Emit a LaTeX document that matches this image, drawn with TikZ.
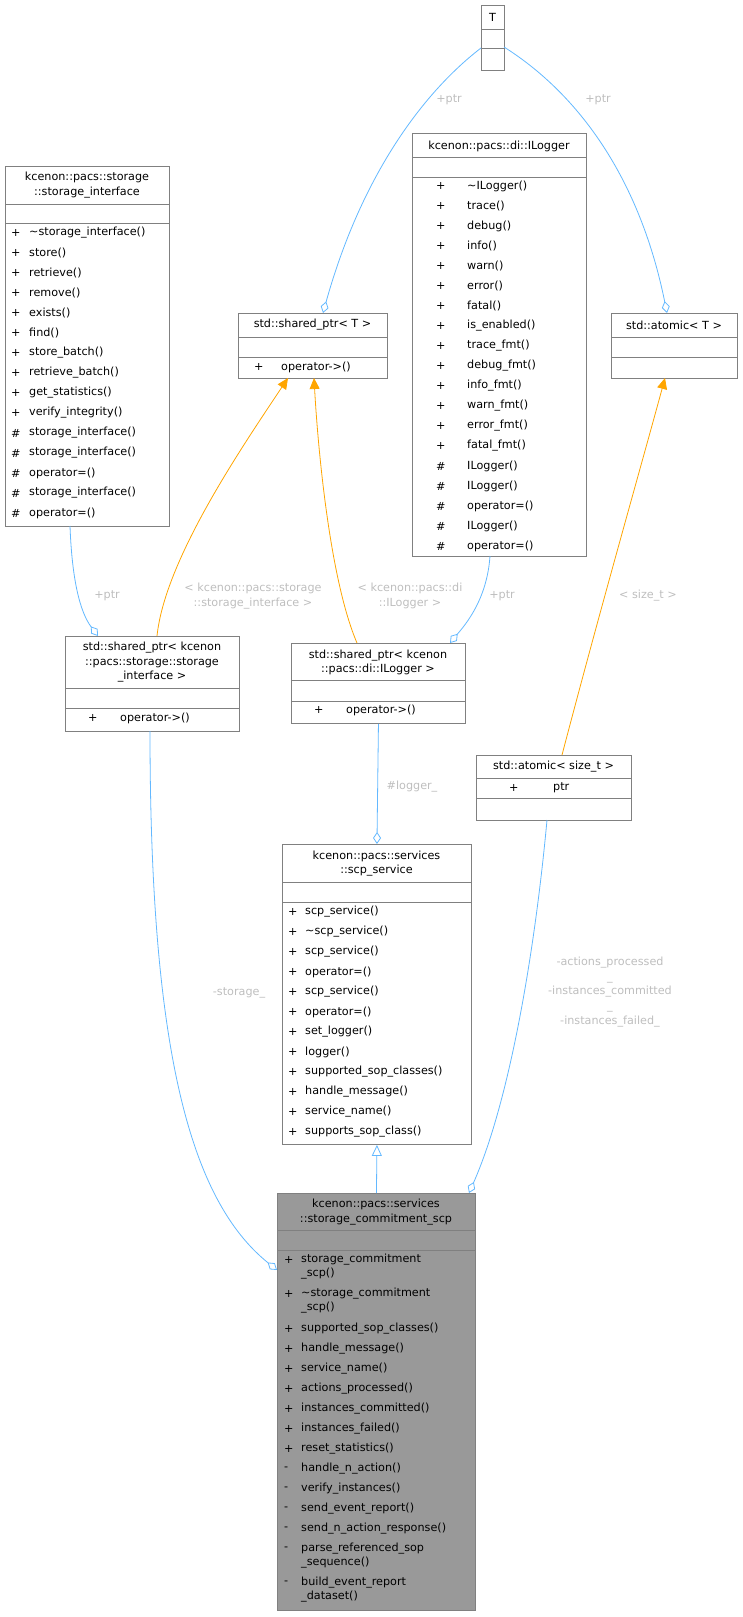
\documentclass[tikz,border=0pt]{standalone}
\usepackage{fontspec}
\setmainfont{DejaVu Sans}
\usetikzlibrary{arrows.meta,calc}

\definecolor{boxline}{HTML}{808080}
\definecolor{edgeblue}{HTML}{63B8FF}
\definecolor{edgeorange}{HTML}{FFA500}
\definecolor{labelgray}{HTML}{BEBEBE}
\definecolor{mainfill}{HTML}{999999}

\tikzset{
  box/.style={draw=boxline, line width=0.9pt, anchor=north west, inner sep=0pt, fill=white},
  title/.style={font=\fontsize{11.2}{14.5}\selectfont, align=center, inner sep=0pt},
  member/.style={font=\fontsize{11.2}{14}\selectfont, anchor=west, inner sep=0pt, align=left},
  elabel/.style={font=\fontsize{11.2}{14.7}\selectfont, text=labelgray, align=center, inner sep=0pt},
  uses/.style={draw=edgeblue, line width=0.8pt, -{Diamond[open,length=12pt,width=8pt]}},
  tmpl/.style={draw=edgeorange, line width=0.8pt, -{Triangle[length=11pt,width=10pt]}},
  inherit/.style={draw=edgeblue, line width=0.8pt, -{Triangle[open,length=11pt,width=10pt]}}
}
\newcommand{\sepat}[2]{\draw[draw=boxline, line width=0.9pt] (#1.west |- 0,#2) -- (#1.east |- 0,#2);}

\begin{document}
\begin{tikzpicture}[x=1pt,y=-1pt]
  \useasboundingbox (0,0) rectangle (742,1617);

  % class boxes
  \node[box, minimum width=23, minimum height=65] (T) at (481,5) {};
  \node[title] (T-t) at (492.5,17) {T};
  \sepat{T}{29} \sepat{T}{48}

  \node[box, minimum width=149, minimum height=65] (spT) at (238,313) {};
  \node[title] (spT-t) at (312.5,325) {std::shared\_ptr< T >};
  \sepat{spT}{337} \sepat{spT}{357}
  \node[member] (spT-s) at (254,367) {+};
  \node[member] (spT-m) at (281,367) {operator->()};

  \node[box, minimum width=126, minimum height=65] (atT) at (611,313) {};
  \node[title] (atT-t) at (674,325) {std::atomic< T >};
  \sepat{atT}{337} \sepat{atT}{357}

  \node[box, minimum width=174, minimum height=423] (ilog) at (412,133) {};
  \node[title] (ilog-t) at (499,146) {kcenon::pacs::di::ILogger};
  \sepat{ilog}{157} \sepat{ilog}{177}
  \foreach \s/\t [count=\i from 0] in {+/\textasciitilde ILogger(), +/trace(), +/debug(), +/info(),
      +/warn(), +/error(), +/fatal(), +/is\_enabled(), +/trace\_fmt(), +/debug\_fmt(),
      +/info\_fmt(), +/warn\_fmt(), +/error\_fmt(), +/fatal\_fmt(), \#/ILogger(),
      \#/ILogger(), \#/operator=(), \#/ILogger(), \#/operator=()}
    {\node[member] (ilog-s\i) at (436,186+20*\i) {\s};
     \node[member] (ilog-m\i) at (467,186+20*\i) {\t};}

  \node[box, minimum width=164, minimum height=360] (si) at (5,166) {};
  \node[title] (si-t) at (87,185) {kcenon::pacs::storage\\::storage\_interface};
  \sepat{si}{204} \sepat{si}{223}
  \foreach \s/\t [count=\i from 0] in {+/\textasciitilde storage\_interface(), +/store(), +/retrieve(),
      +/remove(), +/exists(), +/find(), +/store\_batch(), +/retrieve\_batch(),
      +/get\_statistics(), +/verify\_integrity(), \#/storage\_interface(),
      \#/storage\_interface(), \#/operator=(), \#/storage\_interface(), \#/operator=()}
    {\node[member] (si-s\i) at (11,233+20*\i) {\s};
     \node[member] (si-m\i) at (29,233+20*\i) {\t};}

  \node[box, minimum width=174, minimum height=95] (sps) at (65,636) {};
  \node[title] (sps-t) at (152,662.5) {std::shared\_ptr< kcenon\\::pacs::storage::storage\\\_interface >};
  \sepat{sps}{688} \sepat{sps}{708}
  \node[member] (sps-s) at (88,718) {+};
  \node[member] (sps-m) at (120,718) {operator->()};

  \node[box, minimum width=174, minimum height=80] (spl) at (291,643) {};
  \node[title] (spl-t) at (378,662.5) {std::shared\_ptr< kcenon\\::pacs::di::ILogger >};
  \sepat{spl}{680} \sepat{spl}{701}
  \node[member] (spl-s) at (314,710) {+};
  \node[member] (spl-m) at (346,710) {operator->()};

  \node[box, minimum width=155, minimum height=65] (ats) at (476,755) {};
  \node[title] (ats-t) at (553.5,767) {std::atomic< size\_t >};
  \sepat{ats}{778} \sepat{ats}{798}
  \node[member] (ats-s) at (509,788) {+};
  \node[member] (ats-m) at (553,788) {ptr};

  \node[box, minimum width=189, minimum height=300] (scp) at (282,844) {};
  \node[title] (scp-t) at (376.5,863.5) {kcenon::pacs::services\\::scp\_service};
  \sepat{scp}{882} \sepat{scp}{902}
  \foreach \t [count=\i from 0] in {scp\_service(), \textasciitilde scp\_service(), scp\_service(),
      operator=(), scp\_service(), operator=(), set\_logger(), logger(),
      supported\_sop\_classes(), handle\_message(), service\_name(), supports\_sop\_class()}
    {\node[member] (scp-s\i) at (288,912+20*\i) {+};
     \node[member] (scp-m\i) at (305,912+20*\i) {\t};}

  \node[box, fill=mainfill, minimum width=198, minimum height=417] (scm) at (277,1193) {};
  \node[title] (scm-t) at (376,1212) {kcenon::pacs::services\\::storage\_commitment\_scp};
  \sepat{scm}{1230} \sepat{scm}{1250}
  \foreach \s/\t/\y [count=\i] in {+/storage\_commitment/1260, /\_scp()/1274,
      +/\textasciitilde storage\_commitment/1294, /\_scp()/1308,
      +/supported\_sop\_classes()/1329, +/handle\_message()/1349, +/service\_name()/1369,
      +/actions\_processed()/1389, +/instances\_committed()/1409, +/instances\_failed()/1429,
      +/reset\_statistics()/1449, -/handle\_n\_action()/1469, -/verify\_instances()/1489,
      -/send\_event\_report()/1509, -/send\_n\_action\_response()/1529,
      -/parse\_referenced\_sop/1549, /\_sequence()/1563,
      -/build\_event\_report/1583, /\_dataset()/1597}
    {\node[member] (scm-s\i) at (284,\y) {\s};
     \node[member] (scm-m\i) at (301,\y) {\t};}

  % attachment points
  \coordinate (T-l) at (481,48);
  \coordinate (T-r) at (504,47);
  \coordinate (spT-top) at (323,313);
  \coordinate (atT-top) at (667,313);
  \coordinate (spT-b1) at (288,378);
  \coordinate (spT-b2) at (314,378);
  \coordinate (atT-b) at (665,378);
  \coordinate (si-b) at (70,526);
  \coordinate (sps-top1) at (98,636);
  \coordinate (sps-top2) at (157,636);
  \coordinate (sps-b) at (150,731);
  \coordinate (ilog-b) at (490,556);
  \coordinate (spl-top1) at (357,643);
  \coordinate (spl-top2) at (450,643);
  \coordinate (ats-top) at (562,755);
  \coordinate (ats-b) at (547,820);
  \coordinate (scm-r) at (469,1193);
  \coordinate (scm-l) at (277,1270);

  % connectors
  \draw[uses] (T-l) .. controls (420,95) and (360,180) .. (spT-top);
  \draw[uses] (T-r) .. controls (580,95) and (640,180) .. (atT-top);
  \draw[uses] (si-b) .. controls (72,580) and (80,612) .. (sps-top1);
  \draw[tmpl] (sps-top2) .. controls (165,560) and (240,450) .. (spT-b1);
  \draw[tmpl] (spl-top1) .. controls (330,580) and (318,450) .. (spT-b2);
  \draw[uses] (ilog-b) .. controls (487,600) and (465,625) .. (spl-top2);
  \draw[tmpl] (ats-top) .. controls (600,610) and (640,470) .. (atT-b);
  \draw[uses] (spl.south) -- (scp.north);
  \draw[uses] (ats-b) .. controls (535,950) and (510,1100) .. (scm-r);
  \draw[inherit] (scm.north) -- (scp.south);
  \draw[uses] (sps-b) .. controls (150,1050) and (190,1200) .. (scm-l);

  % edge labels
  \node[elabel] (l-ptr1) at (449,100) {+ptr};
  \node[elabel] (l-ptr2) at (598,100) {+ptr};
  \node[elabel] (l-ptr3) at (107,596) {+ptr};
  \node[elabel] (l-ptr4) at (502,596) {+ptr};
  \node[elabel] (l-si) at (253,596) {< kcenon::pacs::storage\\::storage\_interface >};
  \node[elabel] (l-il) at (410,596) {< kcenon::pacs::di\\::ILogger >};
  \node[elabel] (l-sz) at (648,596) {< size\_t >};
  \node[elabel] (l-log) at (412,787) {\#logger\_};
  \node[elabel] (l-st) at (239,993) {-storage\_};
  \node[elabel] (l-cnt) at (610,992) {-actions\_processed\\\_\\-instances\_committed\\\_\\-instances\_failed\_};
\end{tikzpicture}
\end{document}
